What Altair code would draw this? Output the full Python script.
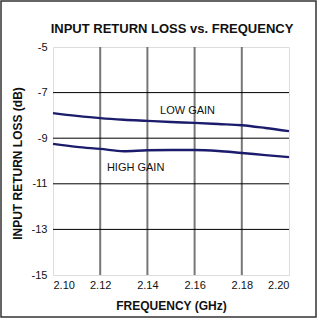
import altair as alt
import pandas as pd

freq = [2.10, 2.11, 2.12, 2.13, 2.14, 2.15, 2.16, 2.17, 2.18, 2.19, 2.20]
low_gain = [-7.90, -8.02, -8.12, -8.19, -8.24, -8.29, -8.33, -8.38, -8.43, -8.55, -8.69]
high_gain = [-9.25, -9.38, -9.47, -9.57, -9.53, -9.52, -9.52, -9.56, -9.65, -9.74, -9.83]

label_text = ["LOW GAIN", "HIGH GAIN"]
label_x = [2.157, 2.135]
label_y = [-7.80, -10.30]

x_ticks = [2.10, 2.12, 2.14, 2.16, 2.18, 2.20]
y_ticks = [-15, -13, -11, -9, -7, -5]

chart_title = "INPUT RETURN LOSS vs. FREQUENCY"

rows = []
for f, v in zip(freq, low_gain):
    rows.append({"freq": f, "loss": v, "series": "LOW GAIN"})
for f, v in zip(freq, high_gain):
    rows.append({"freq": f, "loss": v, "series": "HIGH GAIN"})
df = pd.DataFrame(rows)
labels = pd.DataFrame({"text": label_text, "freq": label_x, "loss": label_y})

W, H = 236, 228
FONT = "Liberation Sans"

xscale = alt.Scale(domain=[2.10, 2.20], nice=False, zero=False)
yscale = alt.Scale(domain=[-15, -5], nice=False, zero=False)

lines = alt.Chart(df).mark_line(color="#1c1c6c", strokeWidth=2.4, interpolate="monotone").encode(
    x=alt.X("freq:Q", scale=xscale,
            axis=alt.Axis(values=x_ticks, format=".2f", grid=False, ticks=False, domain=False,
                          labelFont=FONT, labelFontSize=11, labelColor="#111", labelPadding=4,
                          title="FREQUENCY (GHz)", titleFont=FONT, titleFontSize=12,
                          titleFontWeight="bold", titleColor="#111", titlePadding=10)),
    y=alt.Y("loss:Q", scale=yscale,
            axis=alt.Axis(values=y_ticks, labelExpr="'' + datum.value", grid=False, ticks=False,
                          domain=False, labelFont=FONT, labelFontSize=11, labelColor="#111",
                          labelPadding=6, title="INPUT RETURN LOSS (dB)", titleFont=FONT,
                          titleFontSize=12, titleFontWeight="bold", titleColor="#111",
                          titleAngle=-90, titleAlign="center", titleBaseline="middle",
                          titleX=-36, titleY=H / 2 + 2)),
    detail="series:N",
)

vgrid = alt.Chart(pd.DataFrame({"freq": x_ticks[1:-1]})).mark_rule(color="#777777", strokeWidth=2).encode(
    x=alt.X("freq:Q", scale=xscale)
)
hgrid = alt.Chart(pd.DataFrame({"loss": y_ticks[1:-1]})).mark_rule(color="#000000", strokeWidth=1).encode(
    y=alt.Y("loss:Q", scale=yscale)
)

texts = alt.Chart(labels).mark_text(font=FONT, fontSize=11, color="#111").encode(
    x=alt.X("freq:Q", scale=xscale),
    y=alt.Y("loss:Q", scale=yscale),
    text="text:N",
)

title_mark = alt.Chart(pd.DataFrame({"t": [chart_title]})).mark_text(
    font=FONT, fontSize=13, fontWeight="bold", color="#111", baseline="alphabetic",
    align="center", clip=False
).encode(x=alt.value(W / 2 + 1), y=alt.value(-14), text="t:N")

frame = alt.Chart(pd.DataFrame({"a": [0]})).mark_rect(
    fill=None, stroke="#333333", strokeWidth=1.5, clip=False
).encode(
    x=alt.value(-52), x2=alt.value(263), y=alt.value(-46), y2=alt.value(270)
)

chart = alt.layer(vgrid, hgrid, lines, texts, title_mark, frame).properties(
    width=W, height=H,
    padding={"left": 53, "top": 47, "right": 31, "bottom": 44},
    autosize=alt.AutoSizeParams(type="none"),
).configure_view(stroke="#000000", strokeWidth=1.2).configure(background="white")

chart.save("out.html", embed_options={"renderer": "svg", "actions": False})
